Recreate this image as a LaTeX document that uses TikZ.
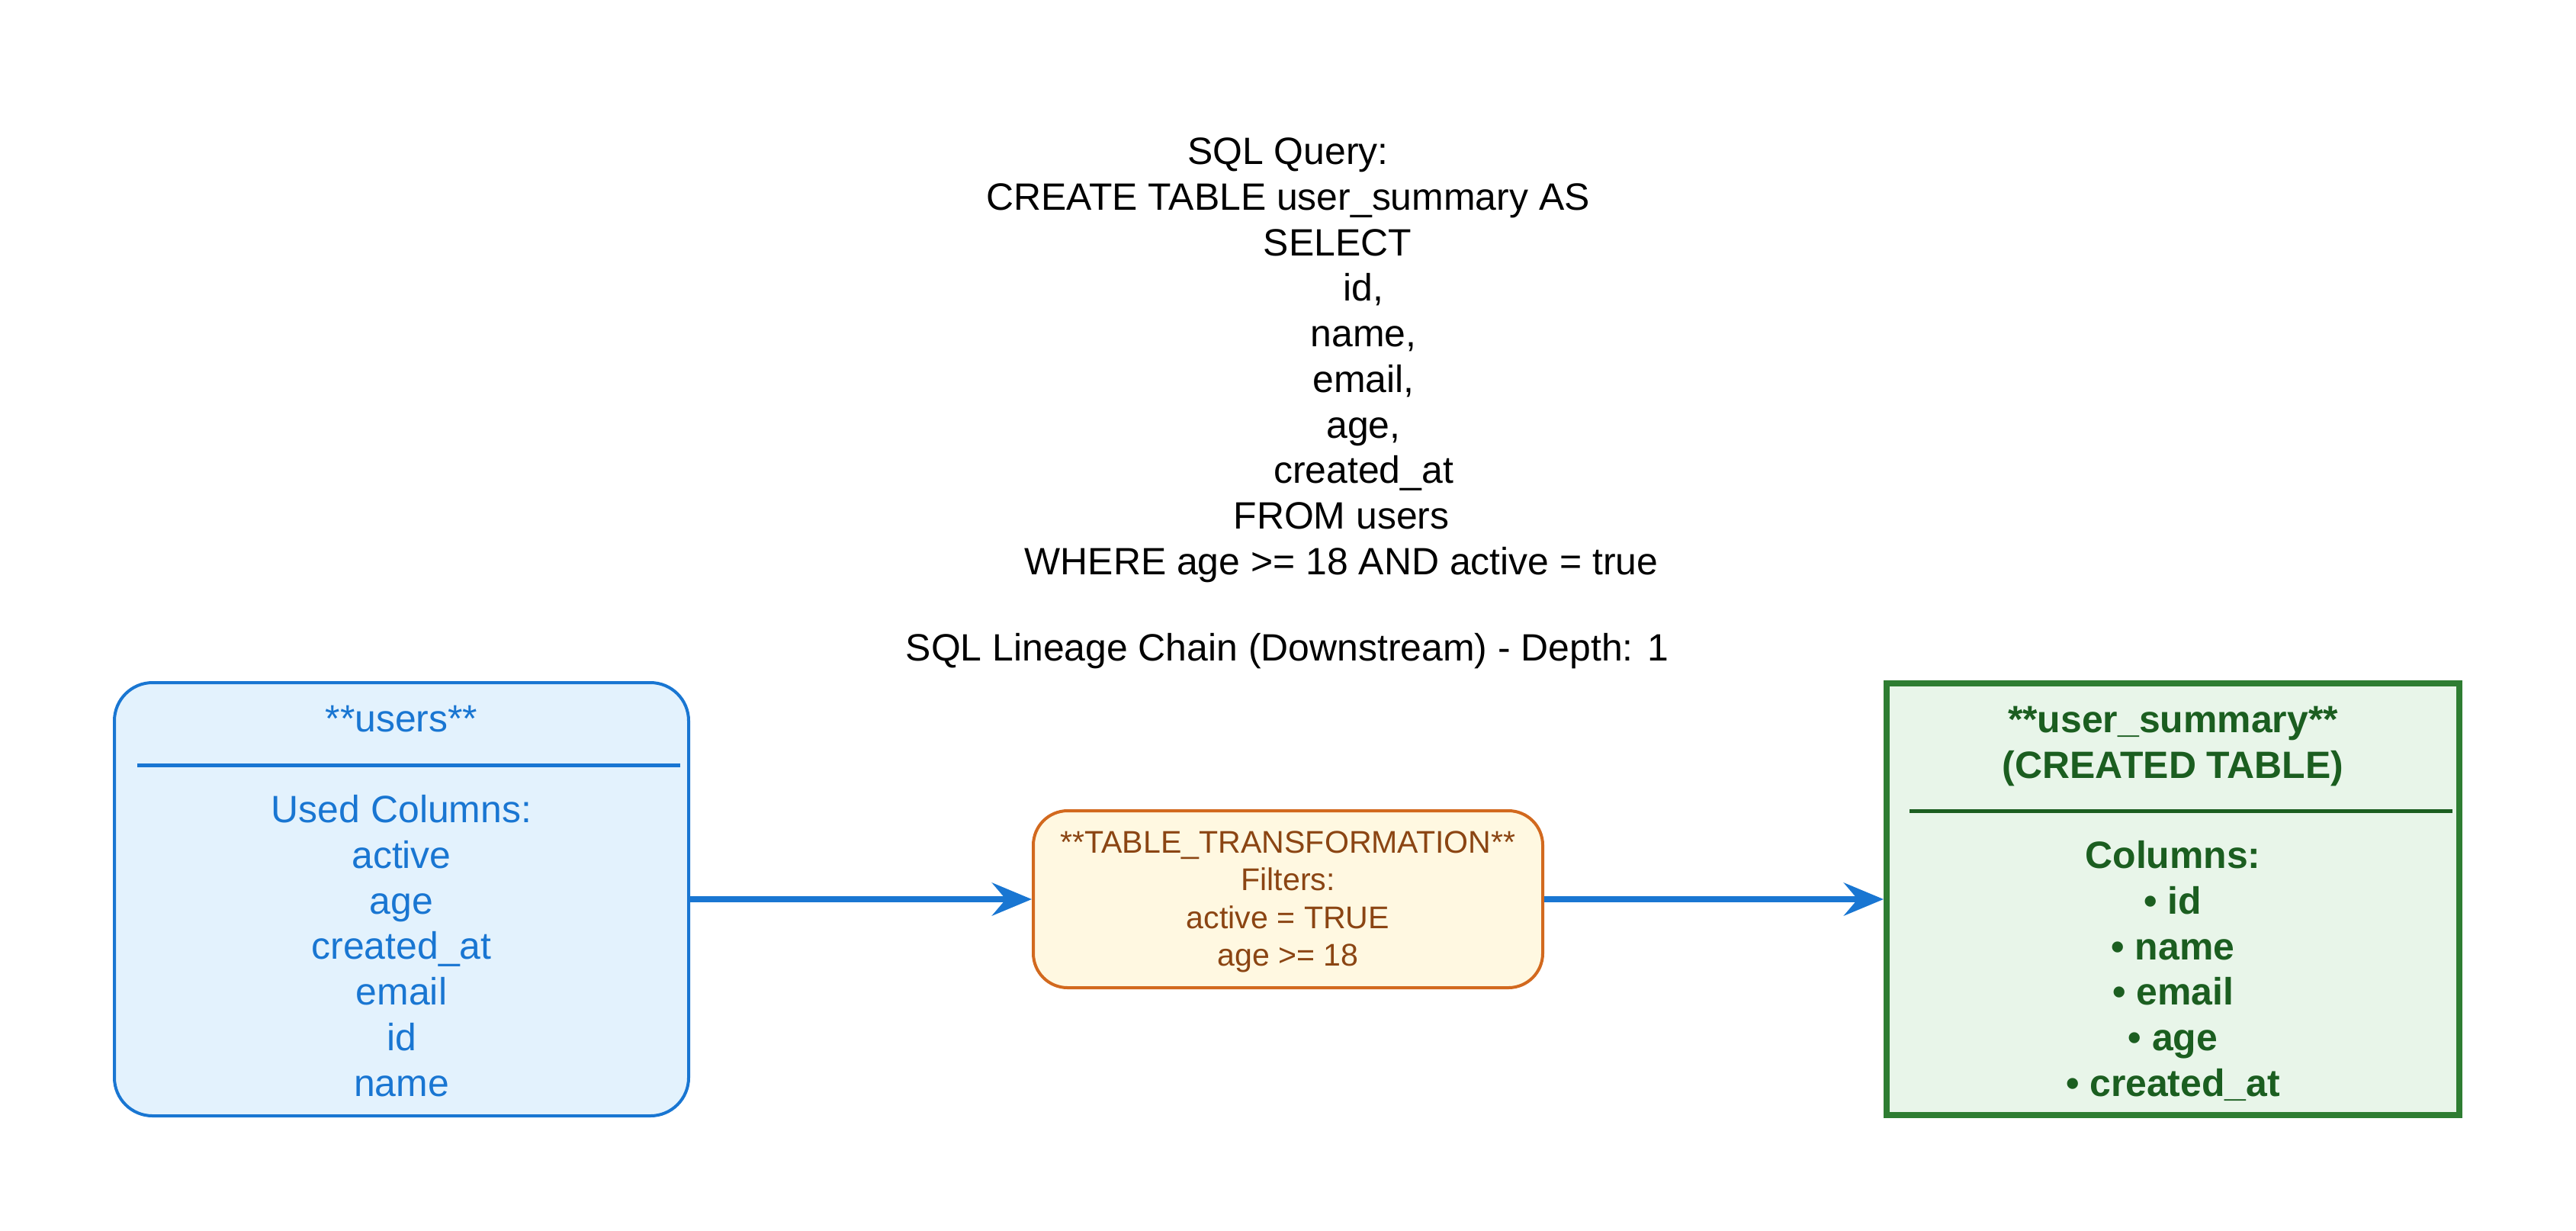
\documentclass[tikz,border=0pt]{standalone}
\usepackage{fontspec}
\setmainfont{Liberation Sans}
\usetikzlibrary{arrows.meta,positioning}

\definecolor{srcblue}{HTML}{1976D2}
\definecolor{srcfill}{HTML}{E3F2FD}
\definecolor{xfline}{HTML}{D2691E}
\definecolor{xffill}{HTML}{FFF8E1}
\definecolor{xftext}{HTML}{8B4513}
\definecolor{dstline}{HTML}{2E7D32}
\definecolor{dstfill}{HTML}{E8F5E9}
\definecolor{dsttext}{HTML}{1B5E20}

\newcommand{\fl}{\rule{0pt}{0.4cm}}

\begin{document}
\begin{tikzpicture}[>={Stealth[length=0.52cm,width=0.43cm,inset=0.18cm]}, node distance=4.48cm]
\tikzstyle{every node}=[font=\fontsize{14.2pt}{17pt}\selectfont, align=center, inner sep=0pt]
\tikzstyle{srcbox}=[draw=srcblue, fill=srcfill, line width=0.04cm, rounded corners=0.5cm, minimum width=7.53cm, minimum height=5.68cm]
\tikzstyle{xfbox}=[draw=xfline, fill=xffill, line width=0.04cm, rounded corners=0.45cm, minimum width=6.68cm, minimum height=2.32cm]
\tikzstyle{dstbox}=[draw=dstline, fill=dstfill, line width=0.08cm, minimum width=7.51cm, minimum height=5.66cm]
\tikzstyle{link}=[->, draw=srcblue, line width=0.08cm]
\useasboundingbox (0,0) rectangle (33.78,-16.13);

% query text on top
\node[anchor=north] (query) at (16.89,-1.75) {\fl SQL Query:\\
CREATE TABLE user\_summary AS\\
\hspace*{1.3cm}SELECT\\
\hspace*{1.98cm}id,\\
\hspace*{1.98cm}name,\\
\hspace*{1.98cm}email,\\
\hspace*{1.98cm}age,\\
\hspace*{1.98cm}created\_at\\
\hspace*{1.4cm}FROM users\\
\hspace*{1.4cm}WHERE age >= 18 AND active = true};
\node[anchor=base] (chain) at (16.88,-8.66) {SQL Lineage Chain (Downstream) - Depth: 1};

% the three tables
\node[srcbox] (users) at (5.265,-11.79) {};
\node[xfbox] (xform) [right=4.48cm of users] {};
\node[dstbox] (summary) [right=4.45cm of xform] {};

\node[anchor=base, text=srcblue] (users-name) at ([yshift=-0.66cm]users.north) {**users**};
\draw[srcblue, line width=0.05cm] ([xshift=0.32cm,yshift=-1.10cm]users.north west) -- ([xshift=-0.13cm,yshift=-1.10cm]users.north east);
\node[anchor=north, text=srcblue] (users-cols) at ([yshift=-1.45cm]users.north) {\fl Used Columns:\\active\\age\\created\_at\\email\\id\\name};

\node[anchor=north, text=xftext, font=\fontsize{11.7pt}{14pt}\selectfont] (xform-text) at ([yshift=-0.17cm]xform.north) {\fl **TABLE\_TRANSFORMATION**\\Filters:\\active = TRUE\\age >= 18};

\node[anchor=north, text=dsttext, font=\fontsize{14.2pt}{17pt}\selectfont\bfseries] (summary-name) at ([yshift=-0.28cm]summary.north) {\fl **user\_summary**\\(CREATED TABLE)};
\draw[dsttext, line width=0.05cm] ([xshift=0.34cm,yshift=-1.71cm]summary.north west) -- ([xshift=-0.13cm,yshift=-1.71cm]summary.north east);
\node[anchor=north, text=dsttext, font=\fontsize{14.2pt}{17pt}\selectfont\bfseries] (summary-cols) at ([yshift=-2.06cm]summary.north) {\fl Columns:\\• id\\• name\\• email\\• age\\• created\_at};

\path
(users) edge[link] (xform)
(xform) edge[link] (summary);
\end{tikzpicture}
\end{document}
